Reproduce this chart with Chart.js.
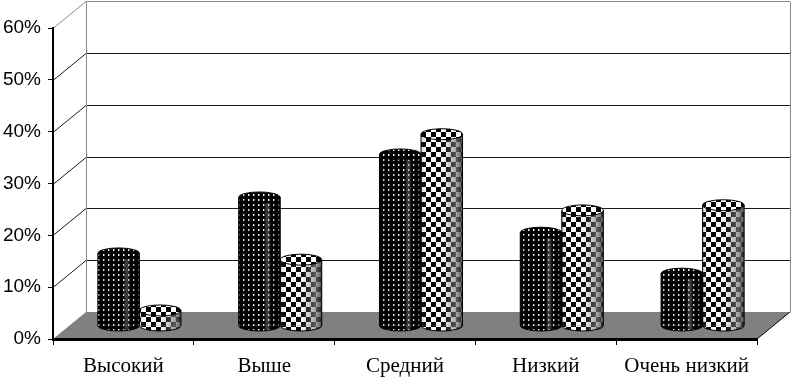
<!DOCTYPE html>
<html>
<head>
<meta charset="utf-8">
<script src="https://cdn.jsdelivr.net/npm/chart.js@4"></script>
<style>html,body{margin:0;padding:0;background:#fff}canvas{display:block}</style>
</head>
<body>
<canvas id="c" width="793" height="378"></canvas>
<script>
const categories = ['Высокий', 'Выше', 'Средний', 'Низкий', 'Очень низкий'];
const seriesDots = [14, 24.8, 33.1, 18, 10.1];
const seriesChecks = [3, 12.8, 37, 22.3, 23.3];

const depthX = 33, depthY = -27;
const barShiftX = 16, barShiftY = -13;
const capRy = 5.5;

function dotsPattern() {
  const t = document.createElement('canvas'); t.width = 5; t.height = 5;
  const g = t.getContext('2d');
  g.fillStyle = '#000'; g.fillRect(0, 0, 5, 5);
  g.fillStyle = '#fff'; g.fillRect(2, 2, 1, 2);
  g.fillStyle = '#666'; g.fillRect(3, 2, 1, 2);
  return g.createPattern(t, 'repeat');
}
function checkPattern() {
  const t = document.createElement('canvas'); t.width = 10; t.height = 10;
  const g = t.getContext('2d');
  g.fillStyle = '#fff'; g.fillRect(0, 0, 10, 10);
  g.fillStyle = '#000'; g.fillRect(0, 0, 5, 5); g.fillRect(5, 5, 5, 5);
  return g.createPattern(t, 'repeat');
}
const patDots = dotsPattern(), patChecks = checkPattern();

const walls = {
  id: 'walls',
  beforeDraw(chart) {
    const { ctx, scales: { x, y } } = chart;
    const L = x.left, R = x.right, B = y.getPixelForValue(0);
    ctx.save();
    ctx.fillStyle = '#808080';
    ctx.beginPath();
    ctx.moveTo(L, B); ctx.lineTo(R, B); ctx.lineTo(R + depthX, B + depthY); ctx.lineTo(L + depthX, B + depthY);
    ctx.closePath(); ctx.fill();
    ctx.lineWidth = 1;
    y.ticks.forEach(t => {
      if (t.value === 0) return;
      const py = Math.round(y.getPixelForValue(t.value)) + 0.5;
      const top = t.value === y.max;
      ctx.strokeStyle = top ? '#8a8a8a' : '#1c1c1c';
      ctx.beginPath();
      ctx.moveTo(L, py); ctx.lineTo(L + depthX, py + depthY); ctx.lineTo(R + depthX, py + depthY);
      ctx.stroke();
    });
    const topY = Math.round(y.getPixelForValue(y.max)) + depthY + 0.5;
    ctx.strokeStyle = '#8a8a8a';
    ctx.beginPath();
    ctx.moveTo(L + depthX + 0.5, topY); ctx.lineTo(L + depthX + 0.5, B + depthY);
    ctx.moveTo(R + depthX + 0.5, topY); ctx.lineTo(R + depthX + 0.5, B + depthY);
    ctx.stroke();
    ctx.strokeStyle = '#000';
    ctx.beginPath();
    ctx.moveTo(R, B); ctx.lineTo(R + depthX, B + depthY);
    ctx.stroke();
    ctx.restore();
  }
};

const cylinders = {
  id: 'cylinders',
  beforeDatasetDraw(chart) {
    chart.ctx.save();
    chart.ctx.translate(barShiftX, barShiftY);
  },
  afterDatasetDraw(chart, args) {
    const ctx = chart.ctx, meta = args.meta;
    const pat = chart.data.datasets[args.index].backgroundColor;
    const dark = args.index === 0;
    meta.data.forEach(el => {
      const rx = el.width / 2, l = el.x - rx, r = el.x + rx;
      // lower half of the base
      ctx.fillStyle = pat;
      ctx.beginPath();
      ctx.ellipse(el.x, el.base, rx, capRy, 0, 0, Math.PI);
      ctx.fill();
      // body shading
      const sh = ctx.createLinearGradient(l, 0, r, 0);
      if (dark) {
        sh.addColorStop(0, 'rgba(0,0,0,0.2)');
        sh.addColorStop(0.6, 'rgba(0,0,0,0)');
        sh.addColorStop(0.66, 'rgba(130,130,130,0.45)');
        sh.addColorStop(0.72, 'rgba(130,130,130,0.45)');
        sh.addColorStop(0.8, 'rgba(0,0,0,0.1)');
        sh.addColorStop(1, 'rgba(0,0,0,0.7)');
      } else {
        sh.addColorStop(0, 'rgba(90,90,90,0.25)');
        sh.addColorStop(0.15, 'rgba(128,128,128,0)');
        sh.addColorStop(0.55, 'rgba(128,128,128,0.1)');
        sh.addColorStop(0.85, 'rgba(128,128,128,0.7)');
        sh.addColorStop(1, 'rgba(40,40,40,0.8)');
      }
      ctx.fillStyle = sh;
      ctx.beginPath();
      ctx.moveTo(l, el.y);
      ctx.lineTo(l, el.base);
      ctx.ellipse(el.x, el.base, rx, capRy, 0, Math.PI, 0, true);
      ctx.lineTo(r, el.y);
      ctx.closePath();
      ctx.fill();
      // top cap
      ctx.fillStyle = pat;
      ctx.beginPath();
      ctx.ellipse(el.x, el.y, rx, capRy, 0, 0, Math.PI * 2);
      ctx.fill();
      // outline
      ctx.strokeStyle = '#000';
      ctx.lineWidth = 1;
      ctx.beginPath();
      ctx.ellipse(el.x, el.y, rx, capRy, 0, 0, Math.PI * 2);
      ctx.moveTo(l, el.y); ctx.lineTo(l, el.base);
      ctx.ellipse(el.x, el.base, rx, capRy, 0, Math.PI, 0, true);
      ctx.lineTo(r, el.y);
      ctx.stroke();
    });
    ctx.restore();
  }
};

new Chart(document.getElementById('c'), {
  type: 'bar',
  data: {
    labels: categories,
    datasets: [
      { label: 'Ряд 1', data: seriesDots, backgroundColor: patDots, borderWidth: 0, clip: false },
      { label: 'Ряд 2', data: seriesChecks, backgroundColor: patChecks, borderWidth: 0, clip: false }
    ]
  },
  options: {
    responsive: false,
    animation: false,
    devicePixelRatio: 1,
    categoryPercentage: 0.59,
    barPercentage: 1,
    layout: { padding: { top: 28, right: 36, left: 0, bottom: 0 } },
    plugins: { legend: { display: false }, title: { display: false }, tooltip: { enabled: false } },
    scales: {
      x: {
        afterFit(s) { s.height = 39; },
        grid: { drawOnChartArea: false, drawTicks: true, tickLength: 6, color: '#000', offset: true },
        border: { color: '#000', width: 3 },
        ticks: { color: '#000', maxRotation: 0, autoSkip: false, padding: 9, font: { family: '"Liberation Serif"', size: 21 } }
      },
      y: {
        min: 0, max: 60,
        afterFit(s) { s.width = 53; },
        grid: { drawOnChartArea: false, drawTicks: true, tickLength: 5, color: '#000' },
        border: { color: '#000', width: 2 },
        ticks: { color: '#000', stepSize: 10, padding: 7, callback: v => v + '%', font: { family: '"Liberation Sans"', size: 19 } }
      }
    }
  },
  plugins: [walls, cylinders]
});
</script>
</body>
</html>
